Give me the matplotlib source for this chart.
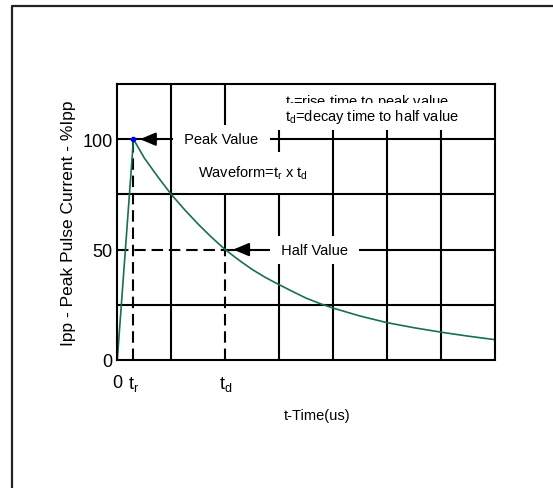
import matplotlib
matplotlib.use("Agg")
import matplotlib.pyplot as plt
from matplotlib.lines import Line2D

plt.rcParams['font.family'] = 'Liberation Sans'

# pulse waveform (time in grid divisions, current in % of Ipp)
t_values = [0.0, 0.3, 0.5, 0.75, 1.0, 1.25, 1.5, 1.75, 2.0, 2.25, 2.5, 2.75, 3.0, 3.25, 3.5, 3.75,
            4.0, 4.5, 5.0, 5.5, 6.0, 6.5, 7.0]
ipp_values = [0, 100, 91.5, 83, 75, 68, 61.5, 55.5, 50, 45.3, 41, 37.3, 34.1, 31, 28, 25.6,
              23.5, 19.9, 16.9, 14.6, 12.6, 10.8, 9.2]

t_r = 0.3
t_d = 2.0
peak = 100
half = 50

x_ticks = [0, t_r, t_d]
x_tick_labels = [r'$\mathregular{0}$', r'$\mathregular{t_r}$', r'$\mathregular{t_d}$']
y_ticks = [0, 50, 100]
grid_x = [1, 2, 3, 4, 5, 6]
grid_y = [25, 50, 75, 100]
x_max = 7
y_max = 125

green = '#17704f'
lw = 1.5
dash = (0, (5.5, 2.8))

fig = plt.figure(figsize=(5.53, 4.89), dpi=100)
ax = fig.add_axes([0.2121, 0.2618, 0.6830, 0.5644])

# grid, the t_d column and the 50% row are dashed below/left of the crossing
for gx in grid_x:
    lo = half if gx == t_d else 0
    ax.plot([gx, gx], [lo, y_max], color='black', lw=lw, zorder=1)
for gy in grid_y:
    lo = t_d if gy == half else 0
    ax.plot([lo, x_max], [gy, gy], color='black', lw=lw, zorder=1)

ax.plot([t_r, t_r], [0, peak], color='black', lw=lw, ls=dash, zorder=1)
ax.plot([t_d, t_d], [0, half], color='black', lw=lw, ls=dash, zorder=1)
ax.plot([0, t_d], [half, half], color='black', lw=lw, ls=dash, zorder=1)

ax.plot(t_values, ipp_values, color=green, lw=1.2, zorder=5)
ax.plot([t_r], [peak], 'o', color='blue', ms=3, zorder=6)

# labels with white boxes over the grid
box = dict(facecolor='white', edgecolor='none', pad=5)
ax.text(1.93, peak, ' Peak Value ', fontsize=10.5, ha='center', va='center', bbox=box, zorder=3)
ax.text(3.655, half, ' Half Value ', fontsize=10.5, ha='center', va='center', bbox=box, zorder=3)
ax.text(2.52, 85, r'Waveform=$\mathregular{t_r}$ x $\mathregular{t_d}$', fontsize=10.5,
        ha='center', va='center', bbox=dict(facecolor='white', edgecolor='none', pad=8.5), zorder=3)
# second line's box clips the foot of the first line, as in the original
ax.text(3.105, 117.5, r'$\mathregular{t_r}$=rise time to peak value', fontsize=10.5,
        ha='left', va='center', bbox=dict(facecolor='white', edgecolor='none', pad=7), zorder=3)
ax.text(3.03, 110.3, r' $\mathregular{t_d}$=decay time to half value', fontsize=10.5,
        ha='left', va='center', bbox=dict(facecolor='white', edgecolor='none', pad=3.5), zorder=3.1)

arrow = dict(arrowstyle='-|>,head_length=0.95,head_width=0.4', color='black', lw=lw,
             mutation_scale=10, shrinkA=0, shrinkB=0)
ax.annotate('', xy=(0.42, peak), xytext=(0.75, peak), arrowprops=arrow, zorder=4)
ax.annotate('', xy=(2.148, half), xytext=(2.45, half), arrowprops=arrow, zorder=4)

ax.set_xlim(0, x_max)
ax.set_ylim(0, y_max)
ax.set_xticks(x_ticks)
ax.set_xticklabels(x_tick_labels)
ax.set_yticks(y_ticks)
ax.tick_params(axis='x', length=0, pad=10, labelsize=13)
ax.tick_params(axis='y', length=0, pad=3.3, labelsize=13)
for s in ax.spines.values():
    s.set_linewidth(lw)
    s.set_zorder(7)

ax.text(-0.1305, 0.5, 'Ipp - Peak Pulse Current - %Ipp', transform=ax.transAxes,
        rotation=90, ha='center', va='center', fontsize=12.5)
ax.text(0.53, -0.201, 't-Time(us)', transform=ax.transAxes, ha='center', va='center', fontsize=10.5)

# outer frame, only its left and top edges fall inside the picture
fig.add_artist(Line2D([12 / 553, 12 / 553, 1.0], [0.0, 1 - 7 / 489, 1 - 7 / 489],
                      transform=fig.transFigure, color='#222222', lw=1.6))

fig.savefig('out.png', dpi=100)
